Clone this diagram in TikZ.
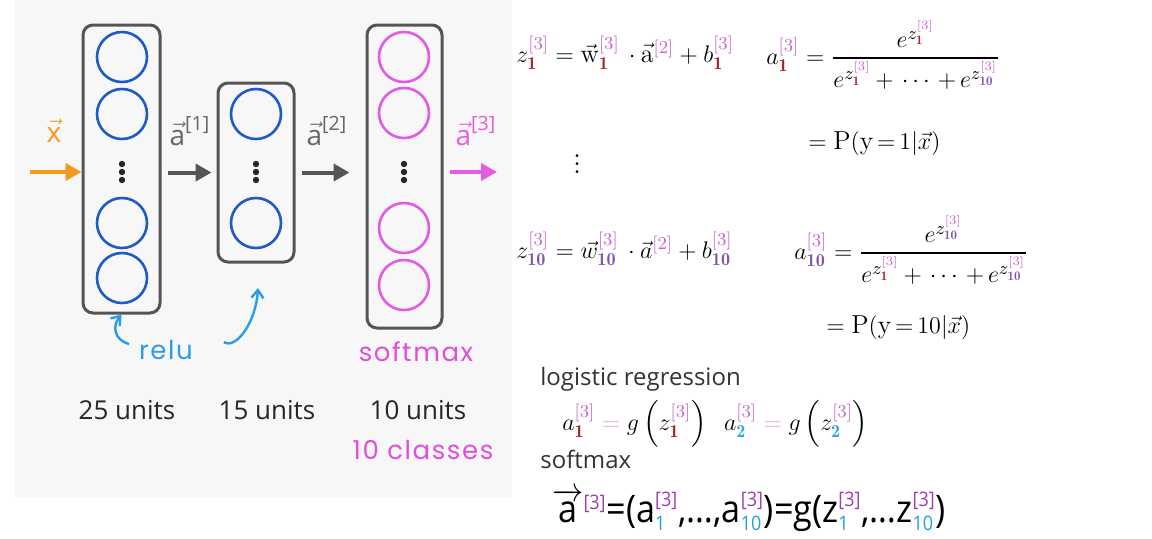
\documentclass[tikz,border=0pt]{standalone}
\usepackage{amsmath,amssymb}
\usepackage{graphicx}
\usepackage{fontspec}
\setsansfont{Open Sans}
\newfontfamily\handfont[LetterSpace=6]{Poppins}
\usepackage{tikz}
\usetikzlibrary{ positioning, arrows.meta, calc, fit }
\usepackage{xcolor}
\definecolor{frame}{HTML}{555555}
\definecolor{unitblue}{HTML}{1F5BC6}
\definecolor{unitpink}{HTML}{E25CE2}
\definecolor{inorange}{HTML}{F39A1C}
\definecolor{handblue}{HTML}{2B9DE8}
\definecolor{handpink}{HTML}{E04FDC}
\definecolor{layc}{HTML}{C962CC}
\definecolor{onered}{HTML}{A8242B}
\definecolor{tenpurple}{HTML}{7D58B0}
\definecolor{twoblue}{HTML}{2FA6DF}
\definecolor{eqlight}{HTML}{D9A3DE}
\definecolor{botpurple}{HTML}{A23EAA}
\definecolor{botcyan}{HTML}{1DA1E2}
\definecolor{panel}{HTML}{F7F7F7}
\newcommand{\lay}[1]{{\color{layc}\mathrm{[#1]}}}
\newcommand{\one}{{\color{onered}\mathbf{1}}}
\newcommand{\two}{{\color{twoblue}\mathbf{2}}}
\newcommand{\ten}{{\color{tenpurple}\mathbf{10}}}
\newcommand{\sml}{\fontsize{10}{10}\selectfont}
\newcommand{\bsa}[2]{$\text{#1}^{\text{\sml\color{botpurple}[3]}}_{\text{\sml\color{botcyan}#2}}$}
\newcommand{\tplus}{\mskip3mu{+}\mskip3mu}

\begin{document}
\begin{tikzpicture}[x=0.5pt, y=-0.5pt,
  layer/.style={draw=frame, line width=1.5pt, rounded corners=5pt, inner sep=0pt},
  bunit/.style={circle, draw=unitblue, line width=1.3pt, minimum size=25pt, inner sep=0pt},
  punit/.style={bunit, draw=unitpink},
  ar/.style={-{Triangle[length=8pt,width=8.5pt]}, line width=2pt, frame},
  lab/.style={font=\sffamily\fontsize{14}{14}\selectfont, text=black!60},
  units/.style={font=\sffamily\fontsize{13}{15}\selectfont, text=black!85},
  hand/.style={font=\handfont\fontsize{13}{15}\selectfont},
  handar/.style={-{Straight Barb[length=4pt,width=6pt]}, line width=1.2pt, handblue},
  eq/.style={font=\fontsize{13}{15}\selectfont, inner sep=0pt},
  head/.style={font=\sffamily\fontsize{12}{14}\selectfont, text=black!80, inner sep=0pt},
]
  \useasboundingbox (0,0) rectangle (1152,538);
  \fill[panel] (15,0) rectangle (512,497);

  \node[layer, fit={(83,25) (160,313)}] (l1) {};
  \node[layer, fit={(218,83) (294,262)}] (l2) {};
  \node[layer, fit={(367,25) (442,328)}] (l3) {};

  \foreach \y [count=\i] in {57,114,223,278}
    \node[bunit] (u1\i) at (122,\y) {};
  \foreach \y [count=\i] in {114,223}
    \node[bunit] (u2\i) at (256,\y) {};
  \foreach \y [count=\i] in {57,113,228,285}
    \node[punit] (u3\i) at (404,\y) {};
  \foreach \x in {122,256,404}
    \foreach \d in {-8,0,8}
      \fill[black!85] (\x,172+\d) circle (1.6pt);

  \coordinate (xin) at (30,172);
  \coordinate (aout) at (497,172);
  \draw[ar, inorange] (xin) -- (l1.west |- xin);
  \draw[ar, shorten <=3pt, shorten >=2.5pt] (l1.east |- l2.west) -- (l2.west);
  \draw[ar, shorten <=3pt, shorten >=8pt] (l2.east) -- (l3.west |- l2.east);
  \draw[ar, unitpink, shorten <=3pt] (l3.east |- aout) -- (aout);

  \node[lab, text=inorange] (xlab) at (54,131) {$\vec{\text{x}}$};
  \node[lab] (a1lab) at (190,131) {$\vec{\text{a}}^{\text{[1]}}$};
  \node[lab] (a2lab) at (327,131) {$\vec{\text{a}}^{\text{[2]}}$};
  \node[lab, text=unitpink] (a3lab) at (476,131) {$\vec{\text{a}}^{\text{[3]}}$};

  \node[hand, text=handblue] (relu) at (166,350) {relu};
  \node[hand, text=handpink] (smax) at (416,352) {softmax};
  \node[hand, text=handpink] (cls) at (423,450) {10 classes};
  \coordinate (r2s) at ($(relu.east)+(24,-8)$);
  \draw[handar] ($(relu.west)+(-3,-6)$) .. controls (114,340) and (112,326) .. (l1.south);
  \draw[handar] (r2s) .. controls (236,350) and (256,322) .. (258,288);

  \node[units] (n1) at (127,410) {25 units};
  \node[units] (n2) at (267,410) {15 units};
  \node[units] (n3) at (418,410) {10 units};

  \node[eq, anchor=base west] (z1) at (516,62)
    {$z^{\lay3}_{\one} = \vec{\mathrm{w}}^{\lay3}_{\one}\, \cdot \vec{\mathrm{a}}^{\lay2} + b^{\lay3}_{\one}$};
  \node[eq, anchor=base west] (a1) at (766,64)
    {$a^{\lay3}_{\one} = \dfrac{e^{z^{\lay3}_{\one}}}{e^{z^{\lay3}_{\one}} \tplus \cdots \tplus e^{z^{\lay3}_{\ten}}}$};
  \node[eq, anchor=base west] (p1) at (808,149) {$= \mathrm{P}(\mathrm{y} \mskip3mu{=}\mskip3mu 1|\vec{x})$};
  \node[eq, font=\fontsize{17}{17}\selectfont] (vd) at (577,158) {$\vdots$};
  \node[eq, anchor=base west] (z10) at (516,258)
    {$z^{\lay3}_{\ten} = \vec{w}^{\lay3}_{\ten}\, \cdot \vec{a}^{\lay2} + b^{\lay3}_{\ten}$};
  \node[eq, anchor=base west] (a10) at (794,259)
    {$a^{\lay3}_{\ten} = \dfrac{e^{z^{\lay3}_{\ten}}}{e^{z^{\lay3}_{\one}} \tplus \cdots \tplus e^{z^{\lay3}_{\ten}}}$};
  \node[eq, anchor=base west] (p10) at (826,333) {$= \mathrm{P}(\mathrm{y} \mskip3mu{=}\mskip3mu 10|\vec{x})$};

  \node[head, anchor=base west] (logreg) at (540,385) {logistic regression};
  \node[eq, anchor=base west] (lr) at (562,430)
    {$a^{\lay3}_{\one} \mathrel{\color{eqlight}=} g\left(z^{\lay3}_{\one}\right) \;\; a^{\lay3}_{\two} \mathrel{\color{eqlight}=} g\left(z^{\lay3}_{\two}\right)$};
  \node[head, anchor=base west] (sm) at (540,468) {softmax};
  \node[eq, anchor=base west, font=\sffamily\fontsize{19}{22}\selectfont] (soft) at (552,522)
    {\scalebox{0.9}[1]{$\smash{\overrightarrow{\text{a}}}^{\text{\sml\color{botpurple}[3]}}$=(\bsa{a}{1},…,\bsa{a}{10})=g(\bsa{z}{1},…\bsa{z}{10})}};
\end{tikzpicture}
\end{document}
